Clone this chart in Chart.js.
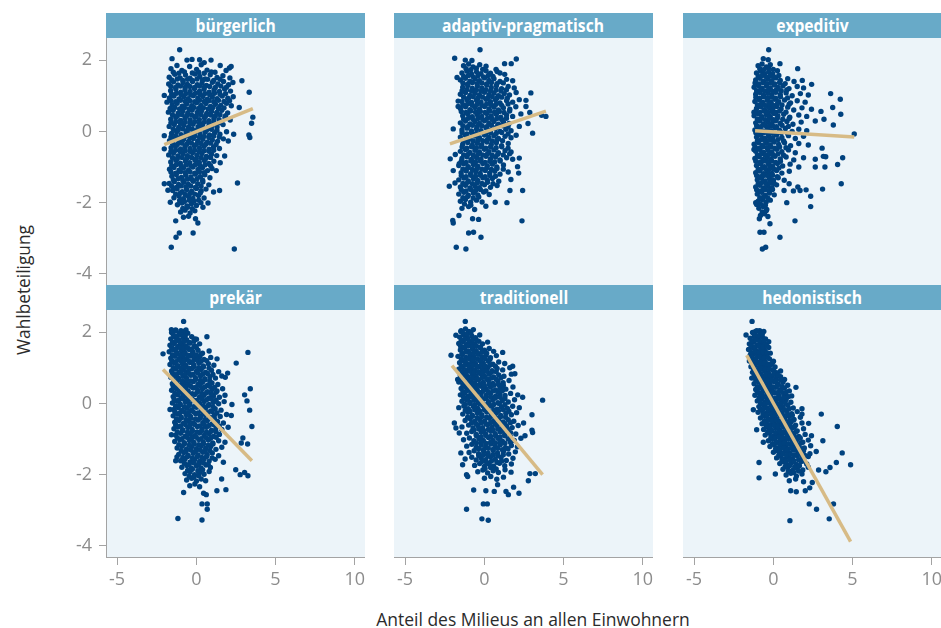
<!DOCTYPE html>
<html><head><meta charset="utf-8">
<script src="https://cdn.jsdelivr.net/npm/chart.js@4/dist/chart.umd.min.js"></script>
<style>
html,body{margin:0;padding:0;background:#fff;overflow:hidden;width:941px;height:628px;position:relative;}
.box{position:absolute;}
.strip{position:absolute;height:25px;background:#68aac8;color:#fff;font-weight:bold;font-size:17px;font-family:'Open Sans',sans-serif;text-align:center;line-height:25px;white-space:nowrap;overflow:hidden;}
.strip span{display:inline-block;transform:scaleX(0.92);transform-origin:50% 50%;}
.ttl{position:absolute;color:#2b2b2b;font-size:19px;font-family:'Open Sans',sans-serif;white-space:nowrap;line-height:20px;}
</style></head><body>
<script>
// ---- data ----
const panelTitles = ['bürgerlich','adaptiv-pragmatisch','expeditiv','prekär','traditionell','hedonistisch'];
const xTickValues = [-5,0,5,10];
const yTickValues = [-4,-2,0,2];
const xTitle = 'Anteil des Milieus an allen Einwohnern';
const yTitle = 'Wahlbeteiligung';

const buergerlich = [
[-1.05,2.29],[-1.53,2.04],[-0.59,2.0],[-0.27,2.02],[0.21,2.01],[0.5,1.93],[0.93,2.0],[1.51,1.85],[2.09,1.78],[2.2,1.82],[2.88,1.42],[3.34,1.1],[2.71,0.67],[3.57,0.4],[3.49,0.23],[3.32,-0.1],[3.38,-0.17],[2.36,-0.08],[1.79,-0.69],[2.6,-1.45],[2.4,-3.3],[-1.58,-3.25],[-1.28,-2.97],[-1.07,-2.85],[-0.2,-2.85],[0.1,-2.57],[-0.05,-2.45],[-1.3,-2.51],[-2.02,1.01],[-1.85,0.82],[-2.02,-0.12],[-2.02,-0.49],[-2.02,-1.47],[-1.79,-1.65],[-1.64,-1.99],[0.74,-2.01],[0.42,-2.13],[1.47,-1.66],[1.09,-1.7],[1.26,-1.1],
[-1.6,1.76],[-1.22,1.85],[-0.91,1.71],[-0.42,1.82],[0.02,1.74],[0.31,1.87],[0.68,1.72],[1.18,1.66],[1.88,1.71],
[-1.71,1.52],[-1.36,1.6],[-1.02,1.5],[-0.68,1.58],[-0.4,1.49],[-0.08,1.61],[0.22,1.54],[0.56,1.47],[0.88,1.59],[1.31,1.51],[1.68,1.56],[2.12,1.5],
[-1.74,1.33],[-1.44,1.39],[-1.16,1.3],[-0.83,1.37],[-0.56,1.32],[-0.24,1.4],[0.06,1.31],[0.36,1.36],[0.64,1.29],[1.02,1.38],[1.36,1.33],[1.72,1.4],[2.04,1.31],[2.31,1.37],
[-1.62,1.14],[-1.29,1.19],[-0.98,1.1],[-0.71,1.17],[-0.39,1.12],[-0.11,1.2],[0.21,1.13],[0.49,1.18],[0.81,1.1],[1.12,1.16],[1.46,1.12],[1.79,1.19],[2.16,1.13],
[-1.7,0.94],[-1.41,0.99],[-1.09,0.91],[-0.79,0.97],[-0.51,0.92],[-0.19,1.0],[0.1,0.93],[0.41,0.98],[0.69,0.9],[1.01,0.96],[1.31,0.92],[1.64,0.99],[1.99,0.93],[2.33,0.97],
[-1.52,0.74],[-1.21,0.79],[-0.89,0.71],[-0.61,0.77],[-0.29,0.72],[0.01,0.8],[0.29,0.73],[0.61,0.78],[0.9,0.7],[1.21,0.76],[1.54,0.73],[1.91,0.79],[2.21,0.72],
[-1.76,0.54],[-1.46,0.59],[-1.14,0.51],[-0.86,0.57],[-0.54,0.52],[-0.26,0.6],[0.06,0.53],[0.34,0.58],[0.66,0.5],[0.96,0.56],[1.29,0.53],[1.61,0.59],[1.98,0.52],
[-1.61,0.34],[-1.29,0.39],[-0.99,0.31],[-0.71,0.37],[-0.39,0.32],[-0.09,0.4],[0.19,0.33],[0.51,0.38],[0.79,0.3],[1.11,0.36],[1.44,0.33],[1.81,0.39],[2.14,0.32],
[-1.71,0.14],[-1.39,0.19],[-1.11,0.11],[-0.79,0.17],[-0.49,0.12],[-0.21,0.2],[0.11,0.13],[0.39,0.18],[0.71,0.1],[0.99,0.16],[1.31,0.12],[1.69,0.19],
[-1.56,-0.06],[-1.24,-0.01],[-0.96,-0.09],[-0.64,-0.03],[-0.36,-0.08],[-0.04,0.0],[0.24,-0.07],[0.56,-0.02],[0.84,-0.1],[1.16,-0.04],[1.49,-0.08],[1.91,-0.01],
[-1.69,-0.26],[-1.41,-0.21],[-1.09,-0.29],[-0.81,-0.23],[-0.49,-0.28],[-0.19,-0.2],[0.09,-0.27],[0.41,-0.22],[0.69,-0.3],[1.01,-0.24],[1.34,-0.28],[1.71,-0.21],[2.02,-0.27],
[-1.59,-0.46],[-1.31,-0.41],[-0.99,-0.49],[-0.71,-0.43],[-0.39,-0.48],[-0.11,-0.4],[0.21,-0.47],[0.49,-0.42],[0.81,-0.5],[1.09,-0.44],[1.46,-0.48],
[-1.74,-0.66],[-1.44,-0.61],[-1.16,-0.69],[-0.84,-0.63],[-0.56,-0.68],[-0.24,-0.6],[0.04,-0.67],[0.36,-0.62],[0.64,-0.7],[0.96,-0.64],[1.29,-0.68],
[-1.61,-0.86],[-1.29,-0.81],[-1.01,-0.89],[-0.69,-0.83],[-0.41,-0.88],[-0.09,-0.8],[0.19,-0.87],[0.51,-0.82],[0.79,-0.9],[1.11,-0.84],[1.51,-0.88],
[-1.69,-1.06],[-1.41,-1.01],[-1.09,-1.09],[-0.81,-1.03],[-0.49,-1.08],[-0.21,-1.0],[0.11,-1.07],[0.39,-1.02],[0.71,-1.1],[0.99,-1.04],
[-1.54,-1.26],[-1.26,-1.21],[-0.94,-1.29],[-0.66,-1.23],[-0.34,-1.28],[-0.06,-1.2],[0.26,-1.27],[0.54,-1.22],[0.86,-1.3],
[-1.71,-1.46],[-1.39,-1.41],[-1.11,-1.49],[-0.79,-1.43],[-0.51,-1.48],[-0.19,-1.4],[0.09,-1.47],[0.41,-1.42],[0.79,-1.5],
[-1.49,-1.66],[-1.21,-1.61],[-0.89,-1.69],[-0.61,-1.63],[-0.29,-1.68],[0.01,-1.6],[0.31,-1.67],[0.61,-1.62],
[-1.41,-1.86],[-1.09,-1.81],[-0.81,-1.89],[-0.49,-1.83],[-0.21,-1.88],[0.14,-1.8],[0.49,-1.87],
[-1.19,-2.06],[-0.91,-2.01],[-0.59,-2.09],[-0.31,-2.03],[0.01,-2.08],[0.29,-2.0],
[-0.99,-2.26],[-0.71,-2.21],[-0.39,-2.29],[-0.09,-2.23],[-0.81,-2.41],[-0.49,-2.38],
[-1.45,1.66],[-1.1,1.63],[-0.75,1.67],[-0.25,1.64],[0.15,1.66],[0.5,1.63],[0.95,1.67],
[-1.55,1.44],[-1.2,1.47],[-0.85,1.43],[-0.55,1.46],[-0.25,1.43],[0.05,1.47],[0.4,1.44],[0.72,1.46],[1.1,1.43],[1.5,1.46],
[-1.6,1.26],[-1.3,1.23],[-1.0,1.27],[-0.7,1.24],[-0.4,1.26],[-0.1,1.23],[0.2,1.27],[0.5,1.24],[0.85,1.26],[1.2,1.23],[1.55,1.27],[1.9,1.24],
[-1.55,1.04],[-1.25,1.07],[-0.95,1.03],[-0.65,1.06],[-0.35,1.03],[-0.05,1.07],[0.25,1.04],[0.55,1.06],[0.85,1.03],[1.15,1.07],[1.5,1.04],[1.85,1.06],
[-1.6,0.86],[-1.3,0.83],[-1.0,0.87],[-0.7,0.84],[-0.4,0.86],[-0.1,0.83],[0.2,0.87],[0.5,0.84],[0.8,0.86],[1.1,0.83],[1.4,0.87],[1.75,0.84],[2.1,0.86],
[-1.65,0.64],[-1.35,0.67],[-1.05,0.63],[-0.75,0.66],[-0.45,0.63],[-0.15,0.67],[0.15,0.64],[0.45,0.66],[0.75,0.63],[1.05,0.67],[1.4,0.64],[1.75,0.66],
[-1.5,0.46],[-1.2,0.43],[-0.9,0.47],[-0.6,0.44],[-0.3,0.46],[0.0,0.43],[0.3,0.47],[0.6,0.44],[0.9,0.46],[1.2,0.43],[1.5,0.47],[1.85,0.44],
[-1.6,0.24],[-1.3,0.27],[-1.0,0.23],[-0.7,0.26],[-0.4,0.23],[-0.1,0.27],[0.2,0.24],[0.5,0.26],[0.8,0.23],[1.1,0.27],[1.45,0.24],
[-1.45,0.06],[-1.15,0.03],[-0.85,0.07],[-0.55,0.04],[-0.25,0.06],[0.05,0.03],[0.35,0.07],[0.65,0.04],[0.95,0.06],[1.3,0.03],
[-1.6,-0.16],[-1.3,-0.13],[-1.0,-0.17],[-0.7,-0.14],[-0.4,-0.17],[-0.1,-0.13],[0.2,-0.16],[0.5,-0.14],[0.8,-0.17],[1.1,-0.13],[1.45,-0.16],
[-1.5,-0.34],[-1.2,-0.37],[-0.9,-0.33],[-0.6,-0.36],[-0.3,-0.33],[0.0,-0.37],[0.3,-0.34],[0.6,-0.36],[0.9,-0.33],[1.25,-0.37],
[-1.6,-0.56],[-1.3,-0.53],[-1.0,-0.57],[-0.7,-0.54],[-0.4,-0.56],[-0.1,-0.53],[0.2,-0.57],[0.5,-0.54],[0.8,-0.56],[1.1,-0.53],
[-1.5,-0.74],[-1.2,-0.77],[-0.9,-0.73],[-0.6,-0.76],[-0.3,-0.73],[0.0,-0.77],[0.3,-0.74],[0.6,-0.76],[0.9,-0.73],
[-1.55,-0.96],[-1.25,-0.93],[-0.95,-0.97],[-0.65,-0.94],[-0.35,-0.96],[-0.05,-0.93],[0.25,-0.97],[0.55,-0.94],[0.9,-0.96],
[-1.6,-1.14],[-1.3,-1.17],[-1.0,-1.13],[-0.7,-1.16],[-0.4,-1.13],[-0.1,-1.17],[0.2,-1.14],[0.5,-1.16],
[-1.45,-1.36],[-1.15,-1.33],[-0.85,-1.37],[-0.55,-1.34],[-0.25,-1.36],[0.05,-1.33],[0.4,-1.37],
[-1.55,-1.54],[-1.25,-1.57],[-0.95,-1.53],[-0.65,-1.56],[-0.35,-1.53],[-0.05,-1.57],[0.3,-1.54],
[-1.3,-1.76],[-1.0,-1.73],[-0.7,-1.77],[-0.4,-1.74],[-0.1,-1.76],[0.25,-1.73],
[-1.05,-1.94],[-0.75,-1.97],[-0.45,-1.93],[-0.15,-1.96],[0.15,-1.93],
[-0.85,-2.16],[-0.55,-2.13],[-0.25,-2.17]
];

const adaptivPragmatisch = [
[-0.27,2.29],[-1.87,2.05],[-1.2,2.0],[-0.78,1.99],[1.28,1.9],[1.7,1.9],[2.02,2.03],[0.74,1.74],[0.99,1.64],[2.94,1.08],[2.63,0.87],[2.63,0.7],[2.87,0.53],[3.89,0.42],[3.62,0.45],[3.05,-0.05],[2.76,0.22],[2.21,0.14],[-1.96,0.07],[-2.15,-0.77],[-1.83,-0.65],[-1.96,-1.1],[-1.58,-0.91],[-2.21,-1.54],[-1.85,-1.45],[2.42,-1.66],[2.38,-2.51],[2.21,-0.75],[2.1,-0.99],[2.17,-1.17],[1.68,-1.35],[1.62,-1.66],[1.43,-2.0],[0.69,-1.99],[0.1,-2.1],[-0.74,-2.45],[-0.36,-2.47],[-1.96,-2.57],[-1.99,-2.5],[-1.6,-2.36],[-0.99,-2.85],[-0.68,-2.83],[-0.21,-2.97],[-1.77,-3.25],[-1.16,-3.3],[-1.72,1.51],[-1.65,0.85],[-1.65,0.7],
[-1.31,1.84],[-0.99,1.89],[-0.71,1.81],[-0.29,1.87],[0.11,1.83],
[-1.41,1.64],[-1.09,1.69],[-0.81,1.61],[-0.49,1.67],[-0.21,1.62],[0.11,1.7],[0.39,1.63],[0.81,1.68],[1.29,1.6],
[-1.51,1.44],[-1.19,1.49],[-0.91,1.41],[-0.59,1.47],[-0.31,1.42],[0.01,1.5],[0.29,1.43],[0.61,1.48],[0.99,1.4],[1.41,1.46],[1.79,1.42],
[-1.36,1.24],[-1.04,1.29],[-0.76,1.21],[-0.44,1.27],[-0.16,1.22],[0.16,1.3],[0.44,1.23],[0.76,1.28],[1.09,1.2],[1.51,1.26],[1.89,1.22],
[-1.51,1.04],[-1.19,1.09],[-0.91,1.01],[-0.59,1.07],[-0.31,1.02],[0.01,1.1],[0.29,1.03],[0.61,1.08],[0.89,1.0],[1.26,1.06],[1.59,1.02],[2.01,1.09],
[-1.41,0.84],[-1.09,0.89],[-0.81,0.81],[-0.49,0.87],[-0.21,0.82],[0.11,0.9],[0.39,0.83],[0.71,0.88],[0.99,0.8],[1.41,0.86],[1.79,0.82],[2.21,0.89],
[-1.51,0.64],[-1.19,0.69],[-0.91,0.61],[-0.59,0.67],[-0.31,0.62],[0.01,0.7],[0.29,0.63],[0.61,0.68],[0.89,0.6],[1.21,0.66],[1.61,0.62],[1.99,0.69],
[-1.36,0.44],[-1.04,0.49],[-0.76,0.41],[-0.44,0.47],[-0.16,0.42],[0.16,0.5],[0.44,0.43],[0.76,0.48],[1.04,0.4],[1.41,0.46],[1.79,0.42],[2.31,0.49],
[-1.51,0.24],[-1.19,0.29],[-0.91,0.21],[-0.59,0.27],[-0.31,0.22],[0.01,0.3],[0.29,0.23],[0.61,0.28],[0.89,0.2],[1.21,0.26],[1.56,0.22],
[-1.41,0.04],[-1.09,0.09],[-0.81,0.01],[-0.49,0.07],[-0.21,0.02],[0.11,0.1],[0.39,0.03],[0.71,0.08],[0.99,0.0],[1.36,0.06],[1.69,0.02],
[-1.51,-0.16],[-1.19,-0.11],[-0.91,-0.19],[-0.59,-0.13],[-0.31,-0.18],[0.01,-0.1],[0.29,-0.17],[0.61,-0.12],[0.89,-0.2],[1.31,-0.14],[1.69,-0.18],[2.01,-0.11],
[-1.36,-0.36],[-1.04,-0.31],[-0.76,-0.39],[-0.44,-0.33],[-0.16,-0.38],[0.16,-0.3],[0.44,-0.37],[0.76,-0.32],[1.09,-0.4],[1.51,-0.34],
[-1.51,-0.56],[-1.19,-0.51],[-0.91,-0.59],[-0.59,-0.53],[-0.31,-0.58],[0.01,-0.5],[0.29,-0.57],[0.61,-0.52],[0.89,-0.6],[1.31,-0.54],[1.69,-0.58],
[-1.41,-0.76],[-1.09,-0.71],[-0.81,-0.79],[-0.49,-0.73],[-0.21,-0.78],[0.11,-0.7],[0.39,-0.77],[0.71,-0.72],[0.99,-0.8],[1.41,-0.74],[1.79,-0.78],
[-1.61,-0.96],[-1.29,-0.91],[-1.01,-0.99],[-0.69,-0.93],[-0.41,-0.98],[-0.09,-0.9],[0.19,-0.97],[0.51,-0.92],[0.79,-1.0],[1.21,-0.94],
[-1.46,-1.16],[-1.14,-1.11],[-0.86,-1.19],[-0.54,-1.13],[-0.26,-1.18],[0.06,-1.1],[0.34,-1.17],[0.66,-1.12],[0.99,-1.2],[1.51,-1.14],
[-1.61,-1.36],[-1.29,-1.31],[-1.01,-1.39],[-0.69,-1.33],[-0.41,-1.38],[-0.09,-1.3],[0.19,-1.37],[0.51,-1.32],[0.91,-1.4],
[-1.51,-1.56],[-1.19,-1.51],[-0.91,-1.59],[-0.59,-1.53],[-0.31,-1.58],[0.01,-1.5],[0.39,-1.57],[0.81,-1.52],
[-1.61,-1.76],[-1.29,-1.71],[-1.01,-1.79],[-0.69,-1.73],[-0.41,-1.78],[-0.04,-1.7],[0.31,-1.77],
[-1.51,-1.96],[-1.19,-1.91],[-0.86,-1.99],[-0.49,-1.93],[-0.14,-1.98],
[-1.41,-2.16],[-0.99,-2.11],[-0.61,-2.19],
[-1.15,1.76],[-0.85,1.73],[-0.5,1.77],[-0.1,1.74],
[-1.3,1.54],[-1.0,1.57],[-0.7,1.53],[-0.4,1.56],[-0.05,1.53],[0.25,1.57],[0.55,1.54],
[-1.35,1.36],[-1.05,1.33],[-0.75,1.37],[-0.45,1.34],[-0.15,1.36],[0.15,1.33],[0.45,1.37],[0.8,1.34],[1.2,1.36],
[-1.4,1.14],[-1.1,1.17],[-0.8,1.13],[-0.5,1.16],[-0.2,1.13],[0.1,1.17],[0.4,1.14],[0.75,1.16],[1.05,1.13],[1.4,1.17],
[-1.3,0.96],[-1.0,0.93],[-0.7,0.97],[-0.4,0.94],[-0.1,0.96],[0.2,0.93],[0.5,0.97],[0.8,0.94],[1.1,0.96],[1.45,0.93],
[-1.35,0.74],[-1.05,0.77],[-0.75,0.73],[-0.45,0.76],[-0.15,0.73],[0.15,0.77],[0.45,0.74],[0.75,0.76],[1.1,0.73],[1.5,0.77],
[-1.45,0.56],[-1.15,0.53],[-0.85,0.57],[-0.55,0.54],[-0.25,0.56],[0.05,0.53],[0.35,0.57],[0.65,0.54],[0.95,0.56],[1.25,0.53],[1.6,0.57],
[-1.3,0.34],[-1.0,0.37],[-0.7,0.33],[-0.4,0.36],[-0.1,0.33],[0.2,0.37],[0.5,0.34],[0.8,0.36],[1.1,0.33],[1.4,0.37],
[-1.35,0.16],[-1.05,0.13],[-0.75,0.17],[-0.45,0.14],[-0.15,0.16],[0.15,0.13],[0.45,0.17],[0.8,0.14],[1.15,0.16],[1.5,0.13],
[-1.4,-0.04],[-1.1,-0.07],[-0.8,-0.03],[-0.5,-0.06],[-0.2,-0.03],[0.1,-0.07],[0.4,-0.04],[0.75,-0.06],[1.1,-0.03],[1.5,-0.07],
[-1.3,-0.26],[-1.0,-0.23],[-0.7,-0.27],[-0.4,-0.24],[-0.1,-0.26],[0.2,-0.23],[0.5,-0.27],[0.8,-0.24],[1.15,-0.26],
[-1.4,-0.44],[-1.1,-0.47],[-0.8,-0.43],[-0.5,-0.46],[-0.2,-0.43],[0.1,-0.47],[0.4,-0.44],[0.75,-0.46],[1.1,-0.43],[1.5,-0.47],
[-1.3,-0.66],[-1.0,-0.63],[-0.7,-0.67],[-0.4,-0.64],[-0.1,-0.66],[0.2,-0.63],[0.5,-0.67],[0.85,-0.64],[1.2,-0.66],[1.6,-0.63],
[-1.45,-0.84],[-1.15,-0.87],[-0.85,-0.83],[-0.55,-0.86],[-0.25,-0.83],[0.05,-0.87],[0.35,-0.84],[0.65,-0.86],[1.0,-0.83],
[-1.35,-1.06],[-1.05,-1.03],[-0.75,-1.07],[-0.45,-1.04],[-0.15,-1.06],[0.15,-1.03],[0.45,-1.07],[0.8,-1.04],[1.2,-1.06],
[-1.45,-1.24],[-1.15,-1.27],[-0.85,-1.23],[-0.55,-1.26],[-0.25,-1.23],[0.05,-1.27],[0.35,-1.24],[0.7,-1.26],
[-1.35,-1.46],[-1.05,-1.43],[-0.75,-1.47],[-0.45,-1.44],[-0.15,-1.46],[0.2,-1.43],[0.55,-1.47],
[-1.45,-1.64],[-1.15,-1.67],[-0.85,-1.63],[-0.55,-1.66],[-0.25,-1.63],[0.1,-1.67],
[-1.35,-1.86],[-1.05,-1.83],[-0.7,-1.87],[-0.35,-1.84],
[-1.25,-2.04],[-0.85,-2.07]
];

const expeditiv = [
[-0.29,2.29],[-0.63,2.04],[-0.32,2.01],[0.42,1.9],[1.54,1.76],[1.83,1.43],[2.42,1.32],[3.62,1.06],[4.23,0.9],[3.75,0.67],[4.26,0.48],[3.79,0.18],[5.11,-0.07],[4.38,-0.74],[4.06,-0.93],[4.29,-1.47],[3.11,-1.62],[2.36,-1.82],[2.36,-2.11],[1.37,-2.51],[0.42,-2.97],[-0.84,-2.83],[-0.59,-2.83],[-0.69,-3.3],[-0.48,-3.25],[-0.21,-2.59],[-0.88,-2.45],[-1.11,-2.0],[0.85,-2.0],[0.68,-1.66],[1.27,-1.67],[1.69,-1.66],[2.07,-1.64],[1.0,-1.47],[1.55,-1.56],[3.26,-1.0],[3.16,-0.7],[3.31,-0.71],[3.08,-0.47],[2.65,-0.78],[2.65,-1.0],[3.01,0.56],[3.2,0.34],[2.65,0.29],[-1.22,0.54],[-1.22,-0.51],[-1.05,-2.05],
[-0.96,1.84],[-0.71,1.89],[-0.44,1.81],[-0.19,1.87],
[-1.06,1.64],[-0.79,1.69],[-0.56,1.61],[-0.29,1.67],[-0.04,1.62],[0.26,1.7],
[-1.11,1.44],[-0.84,1.49],[-0.61,1.41],[-0.34,1.47],[-0.09,1.42],[0.16,1.5],[0.44,1.43],[0.91,1.48],[1.31,1.4],
[-1.21,1.24],[-0.94,1.29],[-0.71,1.21],[-0.44,1.27],[-0.19,1.22],[0.06,1.3],[0.31,1.23],[0.61,1.28],[0.99,1.2],[1.51,1.26],[1.91,1.22],
[-1.11,1.04],[-0.84,1.09],[-0.61,1.01],[-0.34,1.07],[-0.09,1.02],[0.16,1.1],[0.44,1.03],[0.81,1.08],[1.19,1.0],[1.71,1.06],[2.21,1.02],
[-1.16,0.84],[-0.89,0.89],[-0.66,0.81],[-0.39,0.87],[-0.14,0.82],[0.11,0.9],[0.34,0.83],[0.71,0.88],[1.09,0.8],[1.51,0.86],[2.01,0.82],
[-1.06,0.64],[-0.79,0.69],[-0.56,0.61],[-0.29,0.67],[-0.04,0.62],[0.21,0.7],[0.49,0.63],[0.91,0.68],[1.29,0.6],[1.81,0.66],[2.41,0.62],
[-1.21,0.44],[-0.94,0.49],[-0.71,0.41],[-0.44,0.47],[-0.19,0.42],[0.06,0.5],[0.29,0.43],[0.66,0.48],[1.04,0.4],[1.61,0.46],[2.11,0.42],
[-1.11,0.24],[-0.84,0.29],[-0.61,0.21],[-0.34,0.27],[-0.09,0.22],[0.16,0.3],[0.44,0.23],[0.86,0.28],[1.24,0.2],[1.76,0.26],
[-1.16,0.04],[-0.89,0.09],[-0.66,0.01],[-0.39,0.07],[-0.14,0.02],[0.11,0.1],[0.39,0.03],[0.76,0.08],[1.19,0.0],[1.61,0.06],[2.11,0.02],
[-1.06,-0.16],[-0.79,-0.11],[-0.56,-0.19],[-0.29,-0.13],[-0.04,-0.18],[0.21,-0.1],[0.54,-0.17],[0.96,-0.12],[1.39,-0.2],[1.91,-0.14],
[-1.21,-0.36],[-0.94,-0.31],[-0.71,-0.39],[-0.44,-0.33],[-0.19,-0.38],[0.06,-0.3],[0.34,-0.37],[0.71,-0.32],[1.09,-0.4],[1.61,-0.34],[2.21,-0.38],
[-1.11,-0.56],[-0.84,-0.51],[-0.61,-0.59],[-0.34,-0.53],[-0.09,-0.58],[0.21,-0.5],[0.54,-0.57],[0.96,-0.52],[1.39,-0.6],
[-1.16,-0.76],[-0.89,-0.71],[-0.66,-0.79],[-0.39,-0.73],[-0.14,-0.78],[0.11,-0.7],[0.44,-0.77],[0.81,-0.72],[1.29,-0.8],[1.91,-0.74],
[-1.06,-0.96],[-0.79,-0.91],[-0.56,-0.99],[-0.29,-0.93],[-0.04,-0.98],[0.26,-0.9],[0.59,-0.97],[1.06,-0.92],[1.61,-1.0],
[-1.11,-1.16],[-0.84,-1.11],[-0.61,-1.19],[-0.34,-1.13],[-0.09,-1.18],[0.21,-1.1],[0.54,-1.17],[1.01,-1.12],
[-1.01,-1.36],[-0.74,-1.31],[-0.51,-1.39],[-0.24,-1.33],[0.01,-1.38],[0.31,-1.3],[0.69,-1.37],
[-1.11,-1.56],[-0.84,-1.51],[-0.61,-1.59],[-0.34,-1.53],[-0.09,-1.58],[0.21,-1.5],
[-1.01,-1.76],[-0.74,-1.71],[-0.51,-1.79],[-0.24,-1.73],[0.06,-1.78],
[-0.96,-1.96],[-0.69,-1.91],[-0.46,-1.99],[-0.19,-1.93],
[-0.91,-2.16],[-0.64,-2.11],[-0.41,-2.19],
[-0.81,-2.36],[-0.56,-2.31],[-0.34,-2.39],
[-0.85,1.76],[-0.6,1.73],[-0.3,1.77],[0.0,1.74],
[-0.95,1.54],[-0.7,1.57],[-0.45,1.53],[-0.2,1.56],[0.05,1.53],[0.35,1.57],
[-1.15,1.36],[-0.9,1.33],[-0.65,1.37],[-0.4,1.34],[-0.15,1.36],[0.1,1.33],[0.4,1.37],[0.75,1.34],
[-1.05,1.14],[-0.8,1.17],[-0.55,1.13],[-0.3,1.16],[-0.05,1.13],[0.2,1.17],[0.5,1.14],[0.85,1.16],
[-1.1,0.96],[-0.85,0.93],[-0.6,0.97],[-0.35,0.94],[-0.1,0.96],[0.15,0.93],[0.45,0.97],[0.9,0.94],
[-1.0,0.74],[-0.75,0.77],[-0.5,0.73],[-0.25,0.76],[0.0,0.73],[0.25,0.77],[0.55,0.74],[1.0,0.76],
[-1.1,0.56],[-0.85,0.53],[-0.6,0.57],[-0.35,0.54],[-0.1,0.56],[0.15,0.53],[0.4,0.57],[0.8,0.54],
[-1.0,0.34],[-0.75,0.37],[-0.5,0.33],[-0.25,0.36],[0.0,0.33],[0.25,0.37],[0.6,0.34],[1.0,0.36],
[-1.05,0.16],[-0.8,0.13],[-0.55,0.17],[-0.3,0.14],[-0.05,0.16],[0.2,0.13],[0.55,0.17],[0.95,0.14],
[-1.1,-0.04],[-0.85,-0.07],[-0.6,-0.03],[-0.35,-0.06],[-0.1,-0.03],[0.15,-0.07],[0.5,-0.04],[0.9,-0.06],
[-1.0,-0.26],[-0.75,-0.23],[-0.5,-0.27],[-0.25,-0.24],[0.0,-0.26],[0.3,-0.23],[0.65,-0.27],
[-1.15,-0.44],[-0.9,-0.47],[-0.65,-0.43],[-0.4,-0.46],[-0.15,-0.43],[0.1,-0.47],[0.4,-0.44],[0.8,-0.46],
[-1.0,-0.66],[-0.75,-0.63],[-0.5,-0.67],[-0.25,-0.64],[0.0,-0.66],[0.3,-0.63],[0.65,-0.67],
[-1.1,-0.84],[-0.85,-0.87],[-0.6,-0.83],[-0.35,-0.86],[-0.1,-0.83],[0.15,-0.87],[0.45,-0.84],
[-0.95,-1.06],[-0.7,-1.03],[-0.45,-1.07],[-0.2,-1.04],[0.05,-1.06],[0.35,-1.03],
[-1.05,-1.24],[-0.8,-1.27],[-0.55,-1.23],[-0.3,-1.26],[-0.05,-1.23],[0.25,-1.27],
[-0.95,-1.46],[-0.7,-1.43],[-0.45,-1.47],[-0.2,-1.44],[0.05,-1.46],
[-1.05,-1.64],[-0.8,-1.67],[-0.55,-1.63],[-0.3,-1.66],[-0.05,-1.63],
[-0.85,-1.86],[-0.6,-1.83],[-0.35,-1.87],
[-0.8,-2.04],[-0.5,-2.07],
[-0.7,-2.26],[-0.45,-2.23]
];

const prekaer = [
[-0.8,2.3],[-1.57,2.07],[-1.3,2.06],[-0.97,2.04],[-0.65,2.06],[-2.1,1.39],[-0.1,1.81],[0.67,1.87],[3.26,1.43],[2.52,1.13],[3.41,0.41],[3.05,0.24],[3.2,0.07],[3.37,-0.19],[3.51,-0.65],[2.94,-0.97],[2.84,-1.11],[3.24,-1.14],[3.05,-1.94],[3.26,-2.03],[2.49,-1.86],[2.77,-2.0],[1.87,-2.42],[1.3,-2.45],[1.6,-2.12],[0.46,-2.52],[0.63,-2.56],[0.36,-2.82],[0.69,-2.82],[0.69,-2.97],[0.36,-3.27],[-1.16,-3.23],[-0.8,-2.5],[-1.3,-1.61],[-1.22,-1.5],[-1.57,-0.88],[-1.66,-0.17],[2.25,-0.03],[2.21,-0.34],[1.83,0.73],[1.98,0.85],
[-1.56,1.99],[-1.29,2.04],[-1.06,1.96],[-0.79,2.02],[-0.54,1.97],
[-1.61,1.81],[-1.34,1.86],[-1.11,1.78],[-0.84,1.84],[-0.61,1.79],[-0.29,1.87],[0.01,1.8],
[-1.66,1.63],[-1.39,1.68],[-1.16,1.6],[-0.89,1.66],[-0.66,1.61],[-0.39,1.69],[-0.11,1.62],[0.21,1.67],
[-1.71,1.45],[-1.44,1.5],[-1.21,1.42],[-0.94,1.48],[-0.71,1.43],[-0.44,1.51],[-0.21,1.44],[0.11,1.49],[0.39,1.41],[0.81,1.47],
[-1.61,1.27],[-1.34,1.32],[-1.11,1.24],[-0.84,1.3],[-0.61,1.25],[-0.34,1.33],[-0.11,1.26],[0.21,1.31],[0.49,1.23],[0.91,1.29],[1.31,1.25],
[-1.66,1.09],[-1.39,1.14],[-1.16,1.06],[-0.89,1.12],[-0.66,1.07],[-0.39,1.15],[-0.16,1.08],[0.16,1.13],[0.44,1.05],[0.76,1.11],[1.11,1.07],
[-1.56,0.91],[-1.29,0.96],[-1.06,0.88],[-0.79,0.94],[-0.56,0.89],[-0.29,0.97],[0.01,0.9],[0.31,0.95],[0.59,0.87],[0.96,0.93],[1.41,0.89],
[-1.61,0.73],[-1.34,0.78],[-1.11,0.7],[-0.84,0.76],[-0.61,0.71],[-0.34,0.79],[-0.06,0.72],[0.26,0.77],[0.54,0.69],[0.86,0.75],[1.21,0.71],[1.61,0.77],
[-1.51,0.55],[-1.24,0.6],[-1.01,0.52],[-0.74,0.58],[-0.51,0.53],[-0.19,0.61],[0.11,0.54],[0.39,0.59],[0.71,0.51],[0.99,0.57],[1.36,0.53],
[-1.56,0.37],[-1.29,0.42],[-1.06,0.34],[-0.79,0.4],[-0.51,0.35],[-0.19,0.43],[0.11,0.36],[0.39,0.41],[0.71,0.33],[0.99,0.39],[1.31,0.35],[1.66,0.41],
[-1.46,0.19],[-1.19,0.24],[-0.96,0.16],[-0.69,0.22],[-0.41,0.17],[-0.09,0.25],[0.21,0.18],[0.49,0.23],[0.81,0.15],[1.09,0.21],[1.46,0.17],[1.81,0.23],
[-1.51,0.01],[-1.24,0.06],[-1.01,-0.02],[-0.69,0.04],[-0.41,-0.01],[-0.09,0.07],[0.21,0.0],[0.49,0.05],[0.81,-0.03],[1.09,0.03],[1.41,-0.01],[1.76,0.05],
[-1.41,-0.17],[-1.14,-0.12],[-0.91,-0.2],[-0.59,-0.14],[-0.31,-0.19],[0.01,-0.11],[0.31,-0.18],[0.59,-0.13],[0.91,-0.21],[1.19,-0.15],[1.56,-0.19],
[-1.46,-0.35],[-1.19,-0.3],[-0.96,-0.38],[-0.64,-0.32],[-0.36,-0.37],[-0.04,-0.29],[0.26,-0.36],[0.54,-0.31],[0.86,-0.39],[1.14,-0.33],[1.51,-0.37],[1.91,-0.31],
[-1.36,-0.53],[-1.09,-0.48],[-0.81,-0.56],[-0.49,-0.5],[-0.21,-0.55],[0.11,-0.47],[0.41,-0.54],[0.69,-0.49],[1.01,-0.57],[1.34,-0.51],[1.71,-0.55],
[-1.41,-0.71],[-1.14,-0.66],[-0.86,-0.74],[-0.54,-0.68],[-0.26,-0.73],[0.06,-0.65],[0.36,-0.72],[0.64,-0.67],[0.96,-0.75],[1.24,-0.69],[1.61,-0.73],[2.01,-0.67],
[-1.31,-0.89],[-0.99,-0.84],[-0.71,-0.92],[-0.39,-0.86],[-0.11,-0.91],[0.21,-0.83],[0.49,-0.9],[0.81,-0.85],[1.09,-0.93],[1.46,-0.87],
[-1.36,-1.07],[-1.04,-1.02],[-0.76,-1.1],[-0.44,-1.04],[-0.16,-1.09],[0.16,-1.01],[0.44,-1.08],[0.76,-1.03],[1.04,-1.11],[1.41,-1.05],[1.81,-1.09],
[-1.21,-1.25],[-0.89,-1.2],[-0.61,-1.28],[-0.29,-1.22],[0.01,-1.27],[0.31,-1.19],[0.59,-1.26],[0.91,-1.21],[1.24,-1.29],[1.61,-1.23],
[-1.11,-1.43],[-0.79,-1.38],[-0.51,-1.46],[-0.19,-1.4],[0.11,-1.45],[0.41,-1.37],[0.69,-1.44],[1.01,-1.39],[1.41,-1.47],
[-0.99,-1.61],[-0.71,-1.56],[-0.39,-1.64],[-0.11,-1.58],[0.21,-1.63],[0.49,-1.55],[0.81,-1.62],[1.19,-1.57],[1.71,-1.65],
[-0.91,-1.79],[-0.59,-1.74],[-0.31,-1.82],[0.01,-1.76],[0.29,-1.81],[0.61,-1.73],[0.89,-1.8],
[-0.71,-1.97],[-0.39,-1.92],[-0.11,-2.0],[0.21,-1.94],[0.49,-1.99],[0.81,-1.91],
[-0.61,-2.15],[-0.29,-2.1],[0.01,-2.18],[0.31,-2.12],[0.59,-2.17],
[-0.41,-2.31],[-0.09,-2.26],[0.21,-2.34],
[-1.45,1.92],[-1.2,1.89],[-0.95,1.93],[-0.7,1.9],
[-1.5,1.72],[-1.25,1.75],[-1.0,1.71],[-0.75,1.74],[-0.45,1.71],[-0.15,1.75],
[-1.55,1.56],[-1.3,1.53],[-1.05,1.57],[-0.8,1.54],[-0.55,1.56],[-0.3,1.53],[0.0,1.57],
[-1.5,1.36],[-1.25,1.39],[-1.0,1.35],[-0.75,1.38],[-0.5,1.35],[-0.25,1.39],[0.0,1.36],[0.3,1.38],
[-1.55,1.2],[-1.3,1.17],[-1.05,1.21],[-0.8,1.18],[-0.5,1.2],[-0.25,1.17],[0.05,1.21],[0.3,1.18],[0.65,1.2],
[-1.45,1.0],[-1.2,1.03],[-0.95,0.99],[-0.7,1.02],[-0.45,0.99],[-0.15,1.03],[0.15,1.0],[0.45,1.02],[0.8,0.99],
[-1.5,0.84],[-1.25,0.81],[-1.0,0.85],[-0.7,0.82],[-0.45,0.84],[-0.2,0.81],[0.1,0.85],[0.4,0.82],[0.7,0.84],[1.05,0.81],
[-1.4,0.64],[-1.15,0.67],[-0.9,0.63],[-0.6,0.66],[-0.35,0.63],[-0.05,0.67],[0.25,0.64],[0.55,0.66],[0.85,0.63],
[-1.45,0.48],[-1.2,0.45],[-0.9,0.49],[-0.65,0.46],[-0.35,0.48],[-0.05,0.45],[0.25,0.49],[0.55,0.46],[0.85,0.48],[1.15,0.45],
[-1.35,0.28],[-1.1,0.31],[-0.85,0.27],[-0.55,0.3],[-0.25,0.27],[0.05,0.31],[0.35,0.28],[0.65,0.3],[0.95,0.27],[1.25,0.31],
[-1.4,0.12],[-1.1,0.09],[-0.85,0.13],[-0.55,0.1],[-0.25,0.12],[0.05,0.09],[0.35,0.13],[0.65,0.1],[0.95,0.12],[1.25,0.09],
[-1.3,-0.08],[-1.05,-0.05],[-0.75,-0.09],[-0.45,-0.06],[-0.15,-0.09],[0.15,-0.05],[0.45,-0.08],[0.75,-0.06],[1.05,-0.09],
[-1.35,-0.24],[-1.05,-0.27],[-0.8,-0.23],[-0.5,-0.26],[-0.2,-0.23],[0.1,-0.27],[0.4,-0.24],[0.7,-0.26],[1.0,-0.23],[1.3,-0.27],
[-1.25,-0.44],[-0.95,-0.41],[-0.65,-0.45],[-0.35,-0.42],[-0.05,-0.44],[0.25,-0.41],[0.55,-0.45],[0.85,-0.42],[1.15,-0.44],
[-1.3,-0.6],[-1.0,-0.63],[-0.7,-0.59],[-0.4,-0.62],[-0.1,-0.59],[0.2,-0.63],[0.5,-0.6],[0.8,-0.62],[1.1,-0.59],[1.45,-0.63],
[-1.2,-0.8],[-0.85,-0.77],[-0.55,-0.81],[-0.25,-0.78],[0.05,-0.8],[0.35,-0.77],[0.65,-0.81],[0.95,-0.78],[1.25,-0.8],
[-1.2,-0.96],[-0.9,-0.99],[-0.6,-0.95],[-0.3,-0.98],[0.0,-0.95],[0.3,-0.99],[0.6,-0.96],[0.9,-0.98],[1.25,-0.95],
[-1.1,-1.16],[-0.75,-1.13],[-0.45,-1.17],[-0.15,-1.14],[0.15,-1.16],[0.45,-1.13],[0.75,-1.17],[1.05,-1.14],
[-0.95,-1.32],[-0.65,-1.35],[-0.35,-1.31],[-0.05,-1.34],[0.25,-1.31],[0.55,-1.35],[0.85,-1.32],
[-0.85,-1.52],[-0.55,-1.49],[-0.25,-1.53],[0.05,-1.5],[0.35,-1.52],[0.65,-1.49],[1.0,-1.53],
[-0.75,-1.68],[-0.45,-1.71],[-0.15,-1.67],[0.15,-1.7],[0.45,-1.67],[0.75,-1.71],
[-0.55,-1.88],[-0.25,-1.85],[0.1,-1.89],[0.4,-1.86],
[-0.45,-2.04],[-0.15,-2.07],[0.15,-2.03]
];

const traditionell = [
[-1.2,2.3],[-1.79,1.91],[-1.48,2.02],[-1.0,2.02],[-2.1,1.35],[1.16,1.43],[1.79,1.04],[1.93,0.83],[3.68,0.09],[2.42,0.17],[3.01,-0.32],[2.48,-0.55],[3.01,-0.75],[3.05,-0.82],[2.57,-0.91],[2.88,-1.97],[3.22,-1.97],[2.78,-2.17],[2.19,-2.52],[1.85,-2.35],[1.37,-2.47],[1.52,-2.56],[0.63,-2.47],[0.84,-2.28],[0.1,-2.45],[-0.67,-2.43],[-1.12,-2.97],[-0.06,-2.82],[0.19,-2.82],[-0.15,-3.24],[0.25,-3.28],[-1.12,-2.0],[-1.05,-2.05],[-1.89,-0.55],[-1.79,-0.69],[-1.58,-0.83],[-1.48,-1.39],[-1.37,-1.72],[-1.68,0.67],
[-1.46,2.04],[-1.19,2.09],[-0.96,2.01],[-0.69,2.07],
[-1.56,1.86],[-1.29,1.91],[-1.06,1.83],[-0.79,1.89],[-0.56,1.84],[-0.29,1.92],
[-1.61,1.68],[-1.34,1.73],[-1.11,1.65],[-0.84,1.71],[-0.61,1.66],[-0.34,1.74],[-0.11,1.67],[0.21,1.72],
[-1.51,1.5],[-1.24,1.55],[-1.01,1.47],[-0.74,1.53],[-0.51,1.48],[-0.24,1.56],[0.01,1.49],[0.31,1.54],[0.59,1.46],
[-1.66,1.32],[-1.39,1.37],[-1.16,1.29],[-0.89,1.35],[-0.66,1.3],[-0.39,1.38],[-0.16,1.31],[0.11,1.36],[0.39,1.28],[0.76,1.34],
[-1.56,1.14],[-1.29,1.19],[-1.06,1.11],[-0.79,1.17],[-0.56,1.12],[-0.29,1.2],[-0.06,1.13],[0.26,1.18],[0.54,1.1],[0.91,1.16],[1.29,1.12],
[-1.61,0.96],[-1.34,1.01],[-1.11,0.93],[-0.84,0.99],[-0.61,0.94],[-0.34,1.02],[-0.11,0.95],[0.21,1.0],[0.49,0.92],[0.81,0.98],[1.16,0.94],[1.61,1.0],
[-1.51,0.78],[-1.24,0.83],[-1.01,0.75],[-0.74,0.81],[-0.51,0.76],[-0.24,0.84],[0.01,0.77],[0.31,0.82],[0.59,0.74],[0.91,0.8],[1.24,0.76],[1.71,0.82],
[-1.61,0.6],[-1.34,0.65],[-1.11,0.57],[-0.84,0.63],[-0.61,0.58],[-0.34,0.66],[-0.06,0.59],[0.26,0.64],[0.54,0.56],[0.86,0.62],[1.19,0.58],[1.56,0.64],
[-1.46,0.42],[-1.19,0.47],[-0.96,0.39],[-0.69,0.45],[-0.46,0.4],[-0.19,0.48],[0.11,0.41],[0.39,0.46],[0.71,0.38],[0.99,0.44],[1.36,0.4],[1.81,0.46],
[-1.51,0.24],[-1.24,0.29],[-1.01,0.21],[-0.74,0.27],[-0.51,0.22],[-0.19,0.3],[0.11,0.23],[0.39,0.28],[0.71,0.2],[0.99,0.26],[1.31,0.22],[1.66,0.28],[2.11,0.24],
[-1.41,0.06],[-1.14,0.11],[-0.91,0.03],[-0.64,0.09],[-0.36,0.04],[-0.04,0.12],[0.26,0.05],[0.54,0.1],[0.86,0.02],[1.14,0.08],[1.51,0.04],[1.91,0.1],
[-1.61,-0.12],[-1.29,-0.07],[-1.01,-0.15],[-0.69,-0.09],[-0.41,-0.14],[-0.09,-0.06],[0.21,-0.13],[0.49,-0.08],[0.81,-0.16],[1.09,-0.1],[1.46,-0.14],[1.79,-0.08],[2.21,-0.12],
[-1.36,-0.3],[-1.04,-0.25],[-0.76,-0.33],[-0.44,-0.27],[-0.16,-0.32],[0.16,-0.24],[0.44,-0.31],[0.76,-0.26],[1.04,-0.34],[1.36,-0.28],[1.71,-0.32],[2.04,-0.26],
[-1.21,-0.48],[-0.89,-0.43],[-0.61,-0.51],[-0.29,-0.45],[0.01,-0.5],[0.31,-0.42],[0.59,-0.49],[0.91,-0.44],[1.19,-0.52],[1.51,-0.46],[1.86,-0.5],
[-1.41,-0.66],[-0.99,-0.61],[-0.71,-0.69],[-0.39,-0.63],[-0.11,-0.68],[0.21,-0.6],[0.49,-0.67],[0.81,-0.62],[1.09,-0.7],[1.41,-0.64],[1.76,-0.68],[2.14,-0.62],
[-1.11,-0.84],[-0.79,-0.79],[-0.51,-0.87],[-0.19,-0.81],[0.09,-0.86],[0.41,-0.78],[0.69,-0.85],[1.01,-0.8],[1.29,-0.88],[1.66,-0.82],[1.99,-0.86],
[-1.31,-1.02],[-0.94,-0.97],[-0.66,-1.05],[-0.34,-0.99],[-0.06,-1.04],[0.26,-0.96],[0.54,-1.03],[0.86,-0.98],[1.14,-1.06],[1.51,-1.0],[1.89,-1.04],[2.31,-0.98],
[-1.11,-1.2],[-0.79,-1.15],[-0.51,-1.23],[-0.19,-1.17],[0.09,-1.22],[0.41,-1.14],[0.69,-1.21],[1.01,-1.16],[1.34,-1.24],[1.71,-1.18],[2.09,-1.22],
[-0.96,-1.38],[-0.64,-1.33],[-0.36,-1.41],[-0.04,-1.35],[0.24,-1.4],[0.56,-1.32],[0.84,-1.39],[1.21,-1.34],[1.54,-1.42],[1.96,-1.36],
[-1.21,-1.56],[-0.79,-1.51],[-0.51,-1.59],[-0.19,-1.53],[0.09,-1.58],[0.41,-1.5],[0.69,-1.57],[1.06,-1.52],[1.39,-1.6],[1.81,-1.54],
[-0.61,-1.74],[-0.29,-1.69],[0.01,-1.77],[0.31,-1.71],[0.59,-1.76],[0.96,-1.68],[1.29,-1.75],[1.71,-1.7],
[-0.41,-1.92],[-0.09,-1.87],[0.21,-1.95],[0.56,-1.89],[0.89,-1.94],[1.31,-1.86],[1.69,-1.93],
[0.01,-2.1],[0.41,-2.05],[0.79,-2.13],[1.21,-2.07],
[-1.35,1.97],[-1.1,1.94],[-0.85,1.98],
[-1.45,1.77],[-1.2,1.8],[-0.95,1.76],[-0.7,1.79],[-0.45,1.76],
[-1.5,1.61],[-1.25,1.58],[-1.0,1.62],[-0.75,1.59],[-0.5,1.61],[-0.25,1.58],
[-1.4,1.41],[-1.15,1.44],[-0.9,1.4],[-0.65,1.43],[-0.4,1.4],[-0.15,1.44],[0.15,1.41],
[-1.45,1.25],[-1.2,1.22],[-0.95,1.26],[-0.7,1.23],[-0.45,1.25],[-0.2,1.22],[0.05,1.26],[0.35,1.23],
[-1.45,1.05],[-1.2,1.08],[-0.95,1.04],[-0.7,1.07],[-0.45,1.04],[-0.2,1.08],[0.05,1.05],[0.35,1.07],[0.7,1.04],
[-1.4,0.89],[-1.15,0.86],[-0.9,0.9],[-0.65,0.87],[-0.4,0.89],[-0.1,0.86],[0.15,0.9],[0.45,0.87],[0.75,0.89],
[-1.45,0.69],[-1.2,0.72],[-0.95,0.68],[-0.7,0.71],[-0.45,0.68],[-0.15,0.72],[0.15,0.69],[0.45,0.71],[0.75,0.68],[1.05,0.72],
[-1.35,0.53],[-1.1,0.5],[-0.85,0.54],[-0.55,0.51],[-0.3,0.53],[0.0,0.5],[0.3,0.54],[0.6,0.51],[0.9,0.53],[1.2,0.5],
[-1.35,0.33],[-1.1,0.36],[-0.85,0.32],[-0.6,0.35],[-0.35,0.32],[-0.05,0.36],[0.25,0.33],[0.55,0.35],[0.85,0.32],[1.15,0.36],
[-1.3,0.17],[-1.05,0.14],[-0.8,0.18],[-0.5,0.15],[-0.2,0.17],[0.1,0.14],[0.4,0.18],[0.7,0.15],[1.0,0.17],[1.3,0.14],
[-1.2,-0.03],[-0.9,0.0],[-0.6,-0.04],[-0.3,-0.01],[0.0,-0.04],[0.3,0.0],[0.6,-0.03],[0.95,-0.01],[1.3,-0.04],
[-1.2,-0.19],[-0.9,-0.22],[-0.6,-0.18],[-0.3,-0.21],[0.0,-0.18],[0.3,-0.22],[0.6,-0.19],[0.9,-0.21],[1.2,-0.18],[1.55,-0.22],
[-1.05,-0.39],[-0.75,-0.36],[-0.45,-0.4],[-0.15,-0.37],[0.15,-0.39],[0.45,-0.36],[0.75,-0.4],[1.05,-0.37],[1.35,-0.39],
[-0.8,-0.55],[-0.5,-0.58],[-0.2,-0.54],[0.1,-0.57],[0.4,-0.54],[0.7,-0.58],[1.0,-0.55],[1.3,-0.57],[1.65,-0.54],
[-0.65,-0.75],[-0.35,-0.72],[-0.05,-0.76],[0.25,-0.73],[0.55,-0.75],[0.85,-0.72],[1.15,-0.76],[1.5,-0.73],
[-0.5,-0.91],[-0.2,-0.94],[0.1,-0.9],[0.4,-0.93],[0.7,-0.9],[1.0,-0.94],[1.3,-0.91],[1.65,-0.93],
[-0.5,-1.11],[-0.2,-1.08],[0.1,-1.12],[0.4,-1.09],[0.7,-1.11],[1.0,-1.08],[1.3,-1.12],[1.65,-1.09],
[-0.35,-1.27],[-0.05,-1.3],[0.25,-1.26],[0.55,-1.29],[0.85,-1.26],[1.15,-1.3],[1.5,-1.27],
[-0.35,-1.47],[-0.05,-1.44],[0.25,-1.48],[0.55,-1.45],[0.85,-1.47],[1.2,-1.44],
[-0.15,-1.63],[0.15,-1.66],[0.45,-1.62],[0.8,-1.65],[1.1,-1.62],
[0.05,-1.83],[0.4,-1.8],[0.75,-1.84]
];

const hedonistisch = [
[-1.34,2.3],[-1.72,1.92],[-1.13,2.02],[-0.6,2.02],[-0.86,2.04],[-1.41,1.65],[1.43,0.45],[0.76,0.24],[1.16,0.21],[1.81,-0.15],[1.81,-0.3],[3.03,-0.3],[4.04,-0.65],[2.23,-0.56],[3.13,-1.05],[4.35,-1.39],[4.88,-1.72],[3.98,-1.66],[3.58,-1.8],[3.32,-1.92],[2.86,-1.87],[-0.9,-1.66],[-0.9,-2.09],[0.13,-1.98],[1.05,-3.29],[2.27,-2.82],[2.73,-2.97],[3.53,-3.24],[3.8,-2.82],[1.1,-2.45],[1.45,-2.48],[2.02,-2.45],[2.3,-2.37],[2.46,-2.22],[-1.05,-0.74],[-1.26,-0.18],[-0.63,-1.09],
[-1.31,1.99],[-1.04,2.04],[-0.81,1.96],
[-1.46,1.83],[-1.19,1.88],[-0.96,1.8],[-0.69,1.86],[-0.49,1.81],
[-1.51,1.67],[-1.24,1.72],[-1.01,1.64],[-0.74,1.7],[-0.51,1.65],[-0.29,1.73],
[-1.56,1.51],[-1.29,1.56],[-1.06,1.48],[-0.79,1.54],[-0.56,1.49],[-0.29,1.57],
[-1.46,1.35],[-1.19,1.4],[-0.96,1.32],[-0.69,1.38],[-0.46,1.33],[-0.19,1.41],
[-1.51,1.19],[-1.24,1.24],[-1.01,1.16],[-0.74,1.22],[-0.51,1.17],[-0.24,1.25],[0.01,1.18],
[-1.41,1.03],[-1.14,1.08],[-0.91,1.0],[-0.64,1.06],[-0.41,1.01],[-0.14,1.09],[0.11,1.02],
[-1.31,0.87],[-1.04,0.92],[-0.81,0.84],[-0.54,0.9],[-0.31,0.85],[-0.04,0.93],[0.21,0.86],[0.46,0.91],
[-1.36,0.71],[-1.09,0.76],[-0.86,0.68],[-0.59,0.74],[-0.36,0.69],[-0.09,0.77],[0.16,0.7],[0.46,0.75],[0.71,0.67],
[-1.21,0.55],[-0.94,0.6],[-0.71,0.52],[-0.44,0.58],[-0.21,0.53],[0.06,0.61],[0.31,0.54],[0.61,0.59],[0.91,0.51],
[-1.11,0.39],[-0.84,0.44],[-0.61,0.36],[-0.34,0.42],[-0.11,0.37],[0.16,0.45],[0.41,0.38],[0.71,0.43],[1.01,0.35],
[-1.16,0.23],[-0.89,0.28],[-0.66,0.2],[-0.39,0.26],[-0.16,0.21],[0.11,0.29],[0.36,0.22],[0.66,0.27],[0.96,0.19],
[-1.01,0.07],[-0.74,0.12],[-0.51,0.04],[-0.24,0.1],[0.01,0.05],[0.26,0.13],[0.51,0.06],[0.81,0.11],[1.11,0.03],
[-0.91,-0.09],[-0.64,-0.04],[-0.41,-0.12],[-0.14,-0.06],[0.11,-0.11],[0.36,-0.03],[0.61,-0.1],[0.91,-0.05],[1.26,-0.13],
[-0.96,-0.25],[-0.69,-0.2],[-0.46,-0.28],[-0.19,-0.22],[0.06,-0.27],[0.31,-0.19],[0.56,-0.26],[0.86,-0.21],[1.16,-0.29],[1.51,-0.23],
[-0.81,-0.41],[-0.54,-0.36],[-0.31,-0.44],[-0.04,-0.38],[0.21,-0.43],[0.46,-0.35],[0.71,-0.42],[1.01,-0.37],[1.31,-0.45],[1.71,-0.39],
[-0.71,-0.57],[-0.44,-0.52],[-0.21,-0.6],[0.06,-0.54],[0.31,-0.59],[0.56,-0.51],[0.81,-0.58],[1.11,-0.53],[1.41,-0.61],[1.81,-0.55],
[-0.61,-0.73],[-0.34,-0.68],[-0.11,-0.76],[0.16,-0.7],[0.41,-0.75],[0.66,-0.67],[0.91,-0.74],[1.21,-0.69],[1.51,-0.77],[1.91,-0.71],
[-0.51,-0.89],[-0.24,-0.84],[0.01,-0.92],[0.26,-0.86],[0.51,-0.91],[0.76,-0.83],[1.01,-0.9],[1.31,-0.85],[1.61,-0.93],[2.01,-0.87],[2.41,-0.91],
[-0.31,-1.05],[-0.04,-1.0],[0.21,-1.08],[0.46,-1.02],[0.71,-1.07],[0.96,-0.99],[1.21,-1.06],[1.51,-1.01],[1.86,-1.09],[2.21,-1.03],
[-0.21,-1.21],[0.06,-1.16],[0.31,-1.24],[0.56,-1.18],[0.81,-1.23],[1.06,-1.15],[1.31,-1.22],[1.61,-1.17],[1.96,-1.25],[2.36,-1.19],
[0.01,-1.37],[0.26,-1.32],[0.51,-1.4],[0.76,-1.34],[1.01,-1.39],[1.26,-1.31],[1.56,-1.38],[1.91,-1.33],[2.31,-1.41],[2.71,-1.35],
[0.21,-1.53],[0.46,-1.48],[0.71,-1.56],[0.96,-1.5],[1.21,-1.55],[1.51,-1.47],[1.81,-1.54],[2.21,-1.49],
[0.41,-1.69],[0.66,-1.64],[0.91,-1.72],[1.16,-1.66],[1.46,-1.71],[1.76,-1.63],[2.11,-1.7],
[0.61,-1.85],[0.91,-1.8],[1.21,-1.88],[1.51,-1.82],[1.86,-1.87],[2.21,-1.79],
[0.81,-2.01],[1.11,-1.96],[1.46,-2.04],[1.81,-1.98],
[1.01,-2.17],[1.41,-2.12],[1.91,-2.2],
[-1.2,1.93],[-0.95,1.9],[-0.7,1.94],
[-1.35,1.75],[-1.1,1.78],[-0.85,1.74],[-0.6,1.77],
[-1.4,1.61],[-1.15,1.58],[-0.9,1.62],[-0.65,1.59],[-0.4,1.61],
[-1.4,1.43],[-1.15,1.46],[-0.9,1.42],[-0.65,1.45],[-0.4,1.42],
[-1.35,1.29],[-1.1,1.26],[-0.85,1.3],[-0.6,1.27],[-0.35,1.29],
[-1.3,1.11],[-1.05,1.14],[-0.8,1.1],[-0.55,1.13],[-0.3,1.1],[-0.05,1.14],
[-1.25,0.97],[-1.0,0.94],[-0.75,0.98],[-0.5,0.95],[-0.25,0.97],[0.0,0.94],
[-1.2,0.79],[-0.95,0.82],[-0.7,0.78],[-0.45,0.81],[-0.2,0.78],[0.05,0.82],[0.3,0.79],
[-1.1,0.65],[-0.85,0.62],[-0.6,0.66],[-0.35,0.63],[-0.1,0.65],[0.15,0.62],[0.45,0.66],
[-1.0,0.47],[-0.75,0.5],[-0.5,0.46],[-0.25,0.49],[0.0,0.46],[0.25,0.5],[0.55,0.47],
[-1.0,0.33],[-0.75,0.3],[-0.5,0.34],[-0.25,0.31],[0.0,0.33],[0.25,0.3],[0.5,0.34],[0.8,0.31],
[-0.9,0.15],[-0.65,0.18],[-0.4,0.14],[-0.15,0.17],[0.1,0.14],[0.35,0.18],[0.65,0.15],
[-0.8,0.01],[-0.55,-0.02],[-0.3,0.02],[-0.05,-0.01],[0.2,0.01],[0.45,-0.02],[0.75,0.02],
[-0.8,-0.17],[-0.55,-0.14],[-0.3,-0.18],[-0.05,-0.15],[0.2,-0.17],[0.45,-0.14],[0.7,-0.18],[1.0,-0.15],
[-0.65,-0.31],[-0.4,-0.34],[-0.15,-0.3],[0.1,-0.33],[0.35,-0.3],[0.6,-0.34],[0.9,-0.31],[1.2,-0.33],
[-0.55,-0.49],[-0.3,-0.46],[-0.05,-0.5],[0.2,-0.47],[0.45,-0.49],[0.7,-0.46],[1.0,-0.5],[1.25,-0.47],
[-0.45,-0.63],[-0.2,-0.66],[0.05,-0.62],[0.3,-0.65],[0.55,-0.62],[0.8,-0.66],[1.05,-0.63],[1.35,-0.65],
[-0.35,-0.81],[-0.1,-0.78],[0.15,-0.82],[0.4,-0.79],[0.65,-0.81],[0.9,-0.78],[1.15,-0.82],[1.45,-0.79],
[-0.15,-0.95],[0.1,-0.98],[0.35,-0.94],[0.6,-0.97],[0.85,-0.94],[1.1,-0.98],[1.35,-0.95],[1.7,-0.97],
[-0.05,-1.13],[0.2,-1.1],[0.45,-1.14],[0.7,-1.11],[0.95,-1.13],[1.2,-1.1],[1.45,-1.14],[1.75,-1.11],
[0.15,-1.27],[0.4,-1.3],[0.65,-1.26],[0.9,-1.29],[1.15,-1.26],[1.4,-1.3],[1.75,-1.27],
[0.35,-1.45],[0.6,-1.42],[0.85,-1.46],[1.1,-1.43],[1.35,-1.45],[1.65,-1.42],[2.0,-1.46],
[0.55,-1.59],[0.8,-1.62],[1.05,-1.58],[1.3,-1.61],[1.6,-1.58],[1.95,-1.62],
[0.75,-1.77],[1.05,-1.74],[1.35,-1.78],[1.65,-1.75],
[0.95,-1.91],[1.3,-1.94],[1.6,-1.9]
];

// fitted lines: [x1, y1, x2, y2]
const trendBuergerlich = [-2.02,-0.37,3.57,0.64];
const trendAdaptiv = [-2.17,-0.35,3.89,0.57];
const trendExpeditiv = [-1.15,0.02,5.11,-0.16];
const trendPrekaer = [-2.1,0.95,3.51,-1.61];
const trendTraditionell = [-2.04,1.06,3.68,-2.0];
const trendHedonistisch = [-1.68,1.35,4.88,-3.88];

const panelPoints = [buergerlich, adaptivPragmatisch, expeditiv, prekaer, traditionell, hedonistisch];
const panelTrends = [trendBuergerlich, trendAdaptiv, trendExpeditiv, trendPrekaer, trendTraditionell, trendHedonistisch];

// ---- layout ----
const colLeft = [106, 394, 683];
const rowTop = [38, 310];
const plotW = 259, plotH = 247, stripH = 25;
const yAxisW = 46, xAxisH = 42;
const X_MIN = -5.7, X_MAX = 10.65, Y_MIN = -4.31, Y_MAX = 2.62;

const bgPlugin = {
  id: 'bgfill',
  beforeDraw(chart) {
    const a = chart.chartArea, ctx = chart.ctx;
    ctx.save();
    ctx.fillStyle = '#ecf4f9';
    ctx.fillRect(a.left, a.top, a.right - a.left, a.bottom - a.top);
    ctx.restore();
  }
};

const axisGray = '#a3a3a3';
const tickFont = { family: "'Open Sans', sans-serif", size: 18 };

panelTitles.forEach((title, i) => {
  const col = i % 3, row = Math.floor(i / 3);
  const showY = col === 0, showX = row === 1;
  const left = colLeft[col] - (showY ? yAxisW : 0);
  const top = rowTop[row];
  const w = plotW + (showY ? yAxisW : 0);
  const h = plotH + (showX ? xAxisH : 0);

  const strip = document.createElement('div');
  strip.className = 'strip';
  strip.style.left = colLeft[col] + 'px';
  strip.style.top = (top - stripH) + 'px';
  strip.style.width = plotW + 'px';
  const sp = document.createElement('span');
  sp.textContent = title;
  strip.appendChild(sp);
  document.body.appendChild(strip);

  const box = document.createElement('div');
  box.className = 'box';
  box.style.left = left + 'px';
  box.style.top = top + 'px';
  box.style.width = w + 'px';
  box.style.height = h + 'px';
  const cv = document.createElement('canvas');
  box.appendChild(cv);
  document.body.appendChild(box);

  const tr = panelTrends[i];
  new Chart(cv, {
    type: 'scatter',
    data: {
      datasets: [
        {
          type: 'line',
          data: [{ x: tr[0], y: tr[1] }, { x: tr[2], y: tr[3] }],
          borderColor: '#d7bb86',
          borderWidth: 3.5,
          pointRadius: 0,
          fill: false,
          order: 0
        },
        {
          data: panelPoints[i].map(p => ({ x: p[0], y: p[1] })),
          backgroundColor: '#00427f',
          borderWidth: 0,
          pointRadius: 2.7,
          pointHoverRadius: 2.7,
          order: 1
        }
      ]
    },
    options: {
      responsive: true,
      maintainAspectRatio: false,
      animation: false,
      events: [],
      layout: { padding: 0, autoPadding: false },
      plugins: { legend: { display: false }, tooltip: { enabled: false }, title: { display: false } },
      scales: {
        x: {
          type: 'linear',
          min: X_MIN, max: X_MAX,
          display: showX,
          afterBuildTicks: ax => { ax.ticks = xTickValues.map(v => ({ value: v })); },
          afterFit: ax => { if (showX) ax.height = xAxisH; ax.paddingLeft = 0; ax.paddingRight = 0; },
          grid: { drawOnChartArea: false, drawTicks: true, tickLength: 8, color: axisGray },
          border: { display: true, color: axisGray },
          ticks: { color: '#8c8c8c', font: tickFont, padding: 4, maxRotation: 0 }
        },
        y: {
          type: 'linear',
          min: Y_MIN, max: Y_MAX,
          display: showY,
          afterBuildTicks: ax => { ax.ticks = yTickValues.map(v => ({ value: v })); },
          afterFit: ax => { if (showY) ax.width = yAxisW; ax.paddingTop = 0; ax.paddingBottom = 0; },
          grid: { drawOnChartArea: false, drawTicks: true, tickLength: 7, color: axisGray },
          border: { display: true, color: axisGray },
          ticks: { color: '#8c8c8c', font: tickFont, padding: 7 }
        }
      }
    },
    plugins: [bgPlugin]
  });
});

const xt = document.createElement('div');
xt.className = 'ttl';
xt.textContent = xTitle;
xt.style.left = '533px';
xt.style.top = '609px';
xt.style.transform = 'translateX(-50%) scaleX(0.92)';
document.body.appendChild(xt);

const yt = document.createElement('div');
yt.className = 'ttl';
yt.textContent = yTitle;
yt.style.left = '23px';
yt.style.top = '290px';
yt.style.transform = 'translate(-50%,-50%) rotate(-90deg) scaleX(0.91)';
document.body.appendChild(yt);
</script>
</body></html>
